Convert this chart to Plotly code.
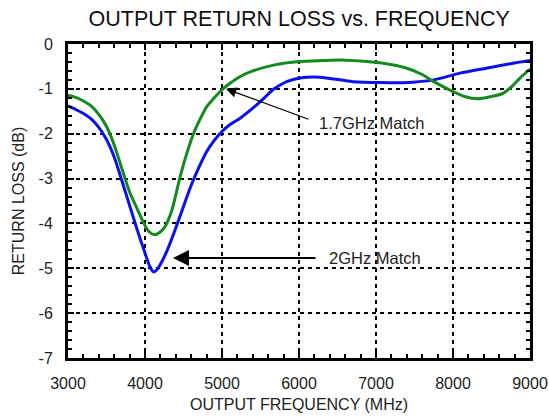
import plotly.graph_objects as go

# Green curve (1.7GHz match)
freq_g = [3000, 3100, 3200, 3300, 3400, 3500, 3600, 3700, 3800, 3900, 3980, 4050, 4120, 4190,
          4260, 4350, 4450, 4550, 4630, 4720, 4800, 4900, 5000, 5100, 5230, 5400, 5700, 6000,
          6300, 6600, 7050, 7400, 7600, 7750, 8000, 8150, 8320, 8500, 8650, 8780, 8870, 9000]
rl_g = [-1.14, -1.19, -1.27, -1.38, -1.57, -1.84, -2.25, -2.78, -3.30, -3.68, -3.98, -4.18, -4.25, -4.20,
        -4.07, -3.70, -3.00, -2.40, -2.00, -1.66, -1.40, -1.20, -1.02, -0.88, -0.73, -0.60, -0.46, -0.39,
        -0.37, -0.36, -0.42, -0.54, -0.68, -0.84, -1.06, -1.17, -1.22, -1.17, -1.10, -0.92, -0.76, -0.56]

# Blue curve (2GHz match)
freq_b = [3000, 3100, 3200, 3300, 3400, 3500, 3600, 3700, 3800, 3900, 4000, 4060, 4110, 4160,
          4220, 4300, 4400, 4500, 4600, 4700, 4800, 4900, 5000, 5100, 5230, 5400, 5550, 5660,
          5750, 5840, 6010, 6270, 6700, 7050, 7480, 7750, 8090, 8430, 8780, 9000]
rl_b = [-1.38, -1.46, -1.55, -1.67, -1.86, -2.13, -2.52, -3.05, -3.60, -4.15, -4.66, -4.95, -5.08, -5.02,
        -4.85, -4.55, -4.10, -3.62, -3.15, -2.75, -2.40, -2.15, -1.95, -1.80, -1.66, -1.43, -1.20, -1.02,
        -0.92, -0.84, -0.76, -0.74, -0.84, -0.86, -0.85, -0.80, -0.65, -0.54, -0.43, -0.37]

x_ticks = [3000, 4000, 5000, 6000, 7000, 8000, 9000]
y_ticks = [0, -1, -2, -3, -4, -5, -6, -7]

FONT = "Liberation Sans, Arial, Helvetica, sans-serif"

fig = go.Figure()
fig.add_trace(go.Scatter(x=freq_b, y=rl_b, mode="lines", line=dict(color="#0a10ee", width=3, shape="spline", smoothing=0.7),
                         showlegend=False, hoverinfo="skip"))
fig.add_trace(go.Scatter(x=freq_g, y=rl_g, mode="lines", line=dict(color="#128a1e", width=3, shape="spline", smoothing=0.7),
                         showlegend=False, hoverinfo="skip"))

axis_common = dict(
    showline=True, linecolor="black", linewidth=3, mirror="allticks",
    showgrid=True, gridcolor="black", gridwidth=2, griddash="4px,4px",
    ticks="inside", ticklen=6, tickwidth=1.5, tickcolor="black",
    zeroline=False, tickfont=dict(family=FONT, size=16, color="#222"),
    ticklabelstandoff=9, automargin=False,
)

fig.update_xaxes(range=[3000, 9000], tickvals=x_ticks, ticktext=[str(v) for v in x_ticks],
                 minor=dict(dtick=200, ticks="inside", ticklen=4, tickcolor="black", showgrid=False),
                 title=dict(text="OUTPUT FREQUENCY (MHz)", font=dict(family=FONT, size=16, color="#222"), standoff=8),
                 **axis_common)
fig.update_yaxes(range=[-7, 0], tickvals=y_ticks, ticktext=[str(v) for v in y_ticks],
                 minor=dict(dtick=0.2, ticks="inside", ticklen=4, tickcolor="black", showgrid=False),
                 title=dict(text="RETURN LOSS (dB)", font=dict(family=FONT, size=16, color="#222"), standoff=10),
                 **axis_common)

# Annotations
fig.add_annotation(x=5052, y=-1.0, ax=6143, ay=-1.69, xref="x", yref="y", axref="x", ayref="y",
                   text="", showarrow=True, arrowhead=2, arrowsize=1.6, arrowwidth=1.3, arrowcolor="black")
fig.add_annotation(x=6234, y=-1.76, text="1.7GHz Match", showarrow=False, xanchor="left",
                   font=dict(family=FONT, size=16.5, color="#222"))
fig.add_annotation(x=4364, y=-4.77, ax=6234, ay=-4.77, xref="x", yref="y", axref="x", ayref="y",
                   text="", showarrow=True, arrowhead=2, arrowsize=1.6, arrowwidth=2, arrowcolor="black")
fig.add_annotation(x=6364, y=-4.77, text="2GHz Match", showarrow=False, xanchor="left",
                   font=dict(family=FONT, size=16.5, color="#222"))

fig.update_layout(
    width=549, height=416,
    margin=dict(l=68, r=19, t=44, b=58, autoexpand=False),
    paper_bgcolor="white", plot_bgcolor="white",
    title=dict(text="OUTPUT RETURN LOSS vs. FREQUENCY", x=0.545, xanchor="center", y=0.955, yanchor="middle",
               font=dict(family=FONT, size=21.5, color="#111")),
)

fig.write_html("out.html")
